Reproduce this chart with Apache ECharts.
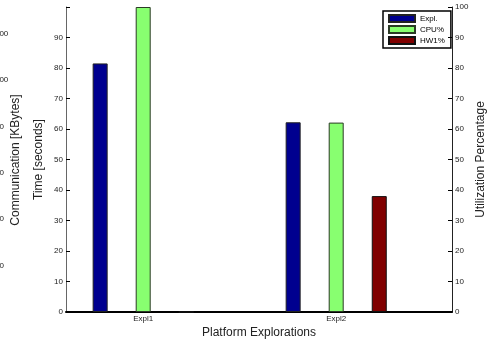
<!DOCTYPE html>
<html>
<head>
<meta charset="utf-8">
<script src="https://cdn.jsdelivr.net/npm/echarts@6/dist/echarts.min.js"></script>
<style>
  html, body { margin: 0; padding: 0; background: #fff; }
  #chart { width: 494px; height: 339px; }
</style>
</head>
<body>
<div id="chart"></div>
<script>
// Platform exploration results: time (left axis) and utilization (right axis)
const categories = ['Expl1', 'Expl2'];
const explTime = [81.5, 62.2];   // Time [seconds]
const cpuUtil = [100, 62.1];     // CPU utilization %
const hwUtil = [0, 38];          // HW1 utilization %
const seriesNames = ['Expl.', 'CPU%', 'HW1%'];

// tick labels
const timeTicks = [0, 10, 20, 30, 40, 50, 60, 70, 80, 90];
const utilTicks = [0, 10, 20, 30, 40, 50, 60, 70, 80, 90, 100];
const commTicks = [0, 200, 400, 600, 800, 1000, 1200];
const catPositions = [1, 2];

const FONT = 'Liberation Sans, Arial, Helvetica, sans-serif';
const TXT = '#222';

const toPairs = vals => vals.map((v, i) => [catPositions[i], v]);

const chart = echarts.init(document.getElementById('chart'), null, { renderer: 'canvas' });

chart.setOption({
  animation: false,
  backgroundColor: '#fff',
  textStyle: { fontFamily: FONT },
  grid: { left: 66, right: 42, top: 7, bottom: 27, containLabel: false, outerBoundsMode: 'none' },
  legend: {
    orient: 'vertical',
    left: 383,
    top: 11,
    padding: [3, 6, 3, 5],
    borderColor: '#000',
    borderWidth: 1.5,
    itemWidth: 26,
    itemHeight: 7,
    itemGap: 2,
    icon: 'rect',
    textStyle: { fontSize: 8, color: '#000', fontFamily: FONT },
    data: seriesNames
  },
  graphic: [{
    type: 'text',
    x: 16,
    y: 160,
    rotation: Math.PI / 2,
    style: {
      text: 'Communication [KBytes]',
      fontSize: 12,
      fontFamily: FONT,
      fill: TXT,
      textAlign: 'center',
      textVerticalAlign: 'middle'
    }
  }],
  xAxis: {
    type: 'value',
    min: 0.6,
    max: 2.6,
    name: 'Platform Explorations',
    nameLocation: 'middle',
    nameGap: 15,
    nameMoveOverlap: false,
    nameTextStyle: { fontSize: 12, color: TXT, fontFamily: FONT },
    axisLine: { show: true, lineStyle: { color: '#000', width: 2 } },
    axisTick: { show: false },
    splitLine: { show: false },
    axisLabel: {
      customValues: catPositions,
      formatter: v => categories[Math.round(v) - 1] || '',
      fontSize: 8,
      color: TXT,
      margin: 3
    }
  },
  yAxis: [
    {
      type: 'value',
      position: 'left',
      min: 0,
      max: 100,
      interval: 10,
      name: 'Time [seconds]',
      nameLocation: 'middle',
      nameRotate: 90,
      nameGap: 21,
      nameMoveOverlap: false,
      nameTextStyle: { fontSize: 12, color: TXT, fontFamily: FONT },
      axisLine: { show: true, lineStyle: { color: '#666', width: 1 } },
      axisTick: { show: true, inside: true, length: 4, lineStyle: { color: '#000' } },
      splitLine: { show: false },
      axisLabel: { customValues: timeTicks, formatter: v => String(v), fontSize: 8, color: TXT, margin: 3 }
    },
    {
      type: 'value',
      position: 'right',
      min: 0,
      max: 100,
      interval: 10,
      name: 'Utilization Percentage',
      nameLocation: 'middle',
      nameRotate: 90,
      nameGap: 23,
      nameMoveOverlap: false,
      nameTextStyle: { fontSize: 12, color: TXT, fontFamily: FONT },
      axisLine: { show: true, lineStyle: { color: '#222', width: 1 } },
      axisTick: { show: true, inside: true, length: 4, lineStyle: { color: '#000' } },
      splitLine: { show: false },
      axisLabel: { customValues: utilTicks, formatter: v => String(v), fontSize: 8, color: TXT, margin: 3 }
    },
    {
      type: 'value',
      position: 'left',
      offset: 75.5,
      min: 0,
      max: 1315,
      axisLine: { show: false },
      axisTick: { show: false },
      splitLine: { show: false },
      axisLabel: { customValues: commTicks, formatter: v => String(v), fontSize: 8, color: TXT, margin: 0, align: 'left' }
    }
  ],
  series: [
    {
      name: seriesNames[0],
      type: 'bar',
      yAxisIndex: 0,
      barWidth: 15,
      barGap: '187%',
      itemStyle: { color: '#00008F', borderColor: '#222', borderWidth: 1 },
      data: toPairs(explTime)
    },
    {
      name: seriesNames[1],
      type: 'bar',
      yAxisIndex: 1,
      barWidth: 15,
      barGap: '187%',
      itemStyle: { color: '#88FF70', borderColor: '#2b3a25', borderWidth: 1 },
      data: toPairs(cpuUtil)
    },
    {
      name: seriesNames[2],
      type: 'bar',
      yAxisIndex: 1,
      barWidth: 15,
      barGap: '187%',
      itemStyle: { color: '#800000', borderColor: '#111', borderWidth: 1 },
      data: toPairs(hwUtil)
    }
  ]
});
</script>
</body>
</html>
